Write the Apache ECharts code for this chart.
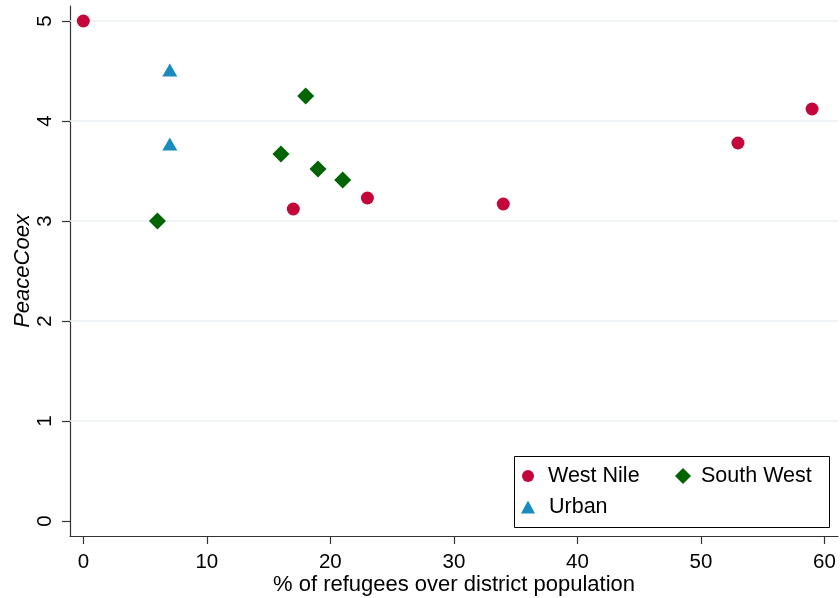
<!DOCTYPE html>
<html>
<head>
<meta charset="utf-8">
<script src="https://cdn.jsdelivr.net/npm/echarts@6/dist/echarts.min.js"></script>
<style>
  html, body { margin: 0; padding: 0; background: #fff; }
  #chart { width: 840px; height: 598px; }
</style>
</head>
<body>
<div id="chart"></div>
<script>
// Share of refugees in district population vs. PeaceCoex score, by region
const westNile  = [[0, 5.00], [17, 3.12], [23, 3.23], [34, 3.17], [53, 3.78], [59, 4.12]];
const southWest = [[6, 3.00], [16, 3.67], [18, 4.25], [19, 3.52], [21, 3.41]];
const urban     = [[7, 4.51], [7, 3.77]];

const xTicks = [0, 10, 20, 30, 40, 50, 60];
const yTicks = [0, 1, 2, 3, 4, 5];
const yGridLines = [1, 2, 3, 4, 5];

const FONT = '"Liberation Sans", Arial, sans-serif';
const RED = '#c4073a';
const GREEN = '#006400';
const BLUE = '#1a8bbf';

const chart = echarts.init(document.getElementById('chart'), null, { renderer: 'canvas' });

const legendBase = {
  orient: 'horizontal',
  itemGap: 0,
  padding: 0,
  selectedMode: false,
  textStyle: { fontFamily: FONT, fontSize: 21.5, color: '#000', padding: [0, 0, 0, 9] }
};

chart.setOption({
  animation: false,
  backgroundColor: '#fff',
  grid: { left: 70, right: 2, top: 6, bottom: 62, containLabel: false, outerBoundsMode: 'none' },
  xAxis: {
    type: 'value',
    min: -1.08,
    max: 61.1,
    name: '% of refugees over district population',
    nameLocation: 'middle',
    nameGap: 38,
    nameMoveOverlap: false,
    nameTextStyle: { fontFamily: FONT, fontSize: 22, color: '#000' },
    axisLine: { show: true, onZero: false, lineStyle: { color: '#333', width: 1.2 } },
    axisTick: { show: true, length: 8, customValues: xTicks, lineStyle: { color: '#333', width: 1.2 } },
    axisLabel: { customValues: xTicks, margin: 16, fontFamily: FONT, fontSize: 20.5, color: '#000' },
    splitLine: { show: false }
  },
  yAxis: {
    type: 'value',
    min: -0.15,
    max: 5.15,
    name: 'PeaceCoex',
    nameLocation: 'middle',
    nameGap: 36,
    nameMoveOverlap: false,
    nameRotate: 90,
    nameTextStyle: { fontFamily: FONT, fontSize: 22, fontStyle: 'italic', color: '#000' },
    axisLine: { show: true, onZero: false, lineStyle: { color: '#333', width: 1.2 } },
    axisTick: { show: true, length: 8, customValues: yTicks, lineStyle: { color: '#333', width: 1.2 } },
    axisLabel: { customValues: yTicks, rotate: 90, margin: 14, fontFamily: FONT, fontSize: 20.5, color: '#000' },
    splitLine: { show: false }
  },
  legend: [
    Object.assign({}, legendBase, {
      data: ['West Nile'], left: 522, top: 465, itemWidth: 12, itemHeight: 12
    }),
    Object.assign({}, legendBase, {
      data: ['South West'], left: 675, top: 465, itemWidth: 16, itemHeight: 16,
      textStyle: Object.assign({}, legendBase.textStyle, { padding: [0, 0, 0, 5] })
    }),
    Object.assign({}, legendBase, {
      data: ['Urban'], left: 521, top: 496, itemWidth: 14, itemHeight: 13
    })
  ],
  graphic: [{
    type: 'rect',
    shape: { x: 514.5, y: 456.5, width: 315, height: 71 },
    style: { fill: 'none', stroke: '#000', lineWidth: 1 },
    z: 100
  }],
  series: [
    {
      type: 'line',
      name: 'grid',
      data: [],
      silent: true,
      z: 1,
      markLine: {
        silent: true,
        symbol: 'none',
        label: { show: false },
        lineStyle: { color: '#e9eff2', width: 1.6, type: 'solid' },
        data: yGridLines.map(v => ({ yAxis: v }))
      }
    },
    {
      type: 'scatter', name: 'West Nile', data: westNile,
      symbol: 'circle', symbolSize: 13, z: 5,
      itemStyle: { color: RED, opacity: 1 }
    },
    {
      type: 'scatter', name: 'South West', data: southWest,
      symbol: 'diamond', symbolSize: 17, z: 5,
      itemStyle: { color: GREEN, opacity: 1 }
    },
    {
      type: 'scatter', name: 'Urban', data: urban,
      symbol: 'triangle', symbolSize: [15, 13], z: 5,
      itemStyle: { color: BLUE, opacity: 1 }
    }
  ]
});
</script>
</body>
</html>
